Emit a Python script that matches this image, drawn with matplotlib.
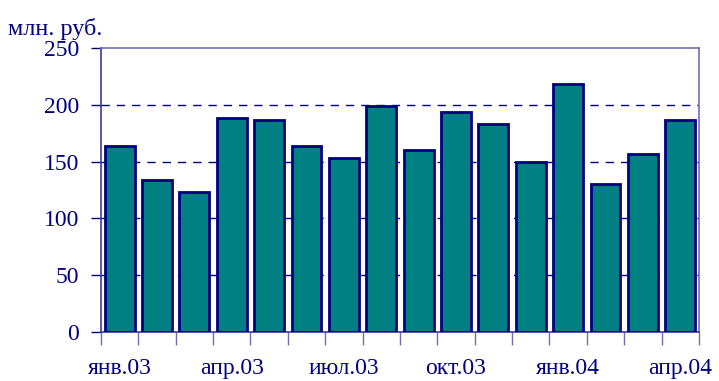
import numpy as np
import matplotlib
matplotlib.use('Agg')
from matplotlib import pyplot as plt

months = ['янв.03', 'фев.03', 'мар.03', 'апр.03', 'май.03', 'июн.03', 'июл.03', 'авг.03',
          'сен.03', 'окт.03', 'ноя.03', 'дек.03', 'янв.04', 'фев.04', 'мар.04', 'апр.04']
values = [164, 134, 123, 188, 187, 164, 153, 199, 160, 194, 183, 150, 218, 130, 157, 187]
y_ticks = [0, 50, 100, 150, 200, 250]

navy = '#000080'
frame = '#7070b0'

plt.rcParams['font.family'] = ['Liberation Serif', 'DejaVu Serif']

fig = plt.figure(figsize=(7.19, 3.81), dpi=100)
ax = fig.add_axes([0.1405, 0.1286, 0.8315, 0.7454])

pos = np.arange(len(values))
ax.bar(pos, values, width=0.8, color='#008080', edgecolor=navy, linewidth=2, zorder=3)

ax.set_xlim(-0.5, len(values) - 0.5)
ax.set_ylim(0, 250)
ax.set_yticks(y_ticks)
ax.tick_params(axis='y', colors=navy, labelsize=17, length=7, width=1, pad=9,
               labelcolor=navy)
for g in y_ticks[1:-1]:
    ax.axhline(g, color=navy, linestyle=(0, (6, 5)), linewidth=1, zorder=1)

# boundaries get tick marks, labels sit at every third month
ax.set_xticks(np.arange(len(values) + 1) - 0.5)
ax.set_xticklabels([])
ax.tick_params(axis='x', which='major', colors=frame, length=9, width=1)
ax.set_xticks(pos[::3], [months[i] for i in pos[::3]], minor=True)
ax.tick_params(axis='x', which='minor', length=0, labelsize=17, pad=19, labelcolor=navy)

ax.spines['left'].set_color('#3a3a98')
ax.spines['bottom'].set_color('#3a3a98')
ax.spines['top'].set_color(frame)
ax.spines['right'].set_color(frame)
for s in ax.spines.values():
    s.set_linewidth(1.2)

fig.text(0.011, 0.925, 'млн. руб.', color=navy, fontsize=17.5, va='center', ha='left')

fig.savefig('out.png', dpi=100)
